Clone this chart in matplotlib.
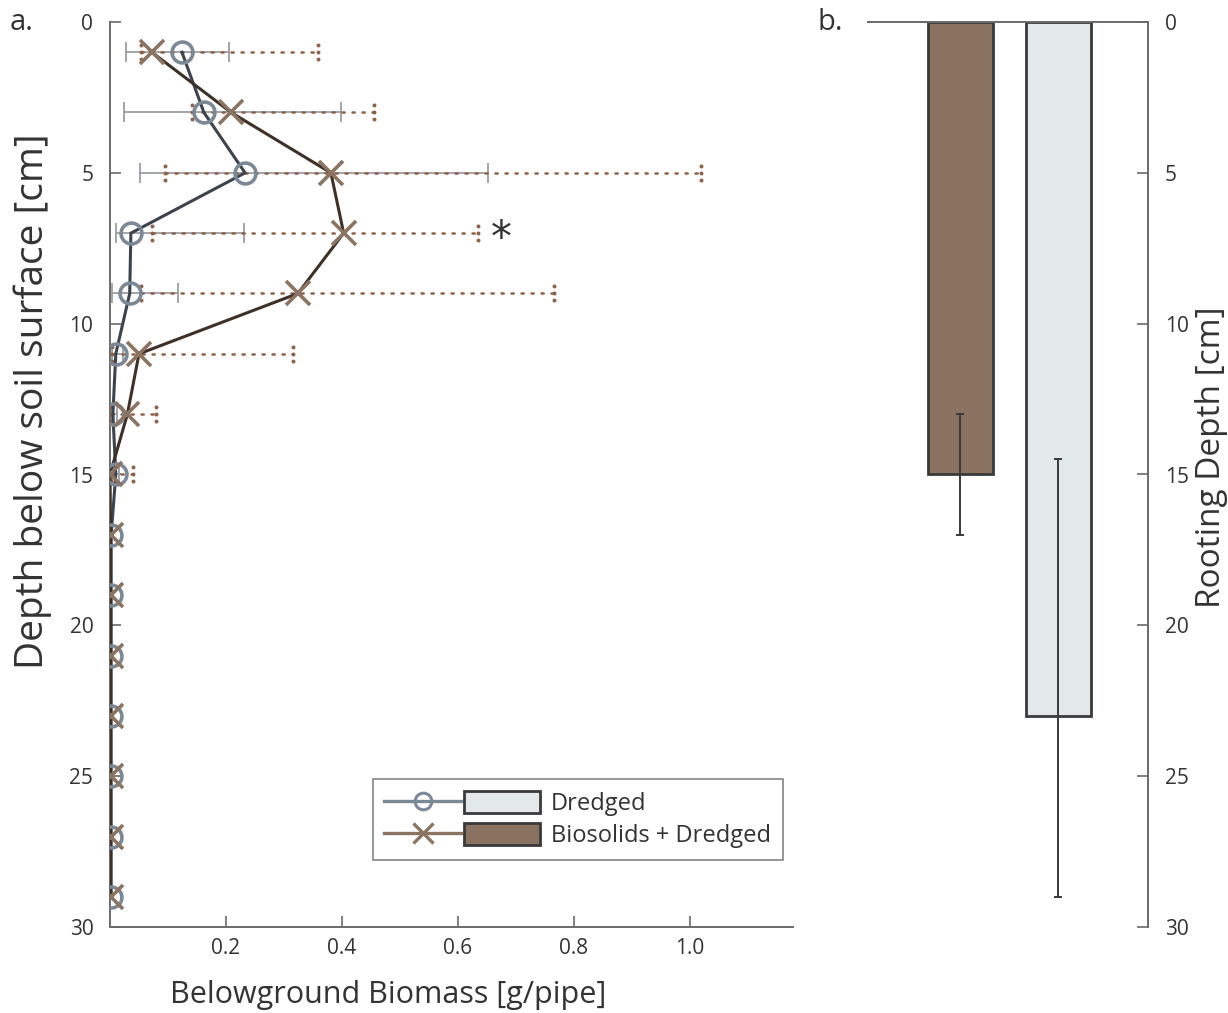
import matplotlib
matplotlib.use("Agg")
import matplotlib.pyplot as plt
import numpy as np
from matplotlib.path import Path
from matplotlib.lines import Line2D
from matplotlib.patches import Patch
from matplotlib.legend_handler import HandlerTuple

plt.rcParams['font.family'] = ['Open Sans', 'DejaVu Sans']

# ---------------- data ----------------
depth = [1, 3, 5, 7, 9, 11, 13, 15, 17, 19, 21, 23, 25, 27, 29]

dredged_mean = [0.124, 0.162, 0.233, 0.036, 0.034, 0.010, 0.005, 0.010,
                0.002, 0.002, 0.002, 0.002, 0.002, 0.002, 0.002]
dredged_low = [0.028, 0.024, 0.052, 0.010, 0.004, 0.003, 0.001, 0.004,
               0.002, 0.002, 0.002, 0.002, 0.002, 0.002, 0.002]
dredged_high = [0.205, 0.398, 0.652, 0.231, 0.118, 0.023, 0.012, 0.016,
                0.002, 0.002, 0.002, 0.002, 0.002, 0.002, 0.002]

bio_mean = [0.072, 0.209, 0.381, 0.403, 0.324, 0.050, 0.030, 0.000,
            0.001, 0.001, 0.001, 0.001, 0.001, 0.001, 0.001]
bio_low = [0.054, 0.141, 0.094, 0.072, 0.053, 0.004, 0.002, 0.001,
           0.001, 0.001, 0.001, 0.001, 0.001, 0.001, 0.001]
bio_high = [0.358, 0.455, 1.020, 0.634, 0.765, 0.316, 0.080, 0.040,
            0.001, 0.001, 0.001, 0.001, 0.001, 0.001, 0.001]

significant_depth = [7]

bar_labels = ["Biosolids + Dredged", "Dredged"]
rooting_depth = [15.0, 23.0]
rooting_err_low = [2.0, 8.5]
rooting_err_high = [2.0, 6.0]

xticks_a = [0.2, 0.4, 0.6, 0.8, 1.0]
xtick_labels_a = ["0.2", "0.4", "0.6", "0.8", "1.0"]
yticks = [0, 5, 10, 15, 20, 25, 30]

# ---------------- styles ----------------
TXT = '#333333'
SPINE = '#6a6a6a'
C_CIRC = '#7b8896'
C_DLINE = '#3d434d'
C_X = '#8b7462'
C_BLINE = '#3e3027'
C_BERR = '#8f6248'
C_GERR = '#9a9ea3'
C_BAR_B = '#8a7260'
C_BAR_D = '#e3e8ea'

# three-dot end marker
circ = Path.unit_circle()
parts = []
for dy in (-1.0, 0.0, 1.0):
    v = circ.vertices * 0.28 + np.array([0.0, dy])
    parts.append(Path(v, circ.codes))
three_dots = Path.make_compound_path(*parts)

fig = plt.figure(figsize=(12.28, 10.13), dpi=100)
axa = fig.add_axes([110 / 1228, 1 - 927 / 1013, 683 / 1228, 905 / 1013])
axb = fig.add_axes([868 / 1228, 1 - 927 / 1013, 280 / 1228, 905 / 1013])

# ---------------- panel a ----------------
d = np.array(depth)
# brown dotted ranges
for i in range(len(d)):
    if bio_high[i] - bio_low[i] > 0.005:
        axa.plot([bio_low[i], bio_high[i]], [d[i], d[i]], color=C_BERR,
                 lw=1.8, linestyle=(0, (0.9, 3.1)), dash_capstyle='round', zorder=3)
        axa.plot([bio_low[i], bio_high[i]], [d[i], d[i]], linestyle='none',
                 marker=three_dots, markersize=13, color=C_BERR,
                 markeredgewidth=0, zorder=3)
# grey solid ranges with caps
for i in range(len(d)):
    if dredged_high[i] - dredged_low[i] > 0.005:
        axa.plot([dredged_low[i], dredged_high[i]], [d[i], d[i]], color=C_GERR,
                 lw=1.3, zorder=2.5)
        axa.plot([dredged_low[i], dredged_high[i]], [d[i], d[i]], linestyle='none',
                 marker='|', markersize=14, markeredgewidth=1.3, color=C_GERR, zorder=2.5)

axa.plot(dredged_mean, d, color=C_DLINE, lw=2.2, zorder=4)
axa.plot(bio_mean, d, color=C_BLINE, lw=2.2, zorder=4)
axa.plot(dredged_mean, d, linestyle='none', marker='o', markersize=15,
         markerfacecolor='none', markeredgecolor=C_CIRC, markeredgewidth=2.6, zorder=5)
axa.plot(bio_mean, d, linestyle='none', marker='x', markersize=17,
         markeredgecolor=C_X, markeredgewidth=2.6, zorder=5)

for sd in significant_depth:
    idx = depth.index(sd)
    axa.text(bio_high[idx] + 0.022, sd + 0.2, '*', fontsize=30, color=TXT,
             ha='left', va='center', family='DejaVu Sans')

axa.set_xlim(0, 1.178)
axa.set_ylim(30, 0)
axa.set_xticks(xticks_a)
axa.set_xticklabels(xtick_labels_a)
axa.set_yticks(yticks)
for s in ('top', 'right'):
    axa.spines[s].set_visible(False)
for s in ('left', 'bottom'):
    axa.spines[s].set_color(SPINE)
    axa.spines[s].set_linewidth(1.4)
axa.tick_params(axis='both', direction='in', length=8, width=1.2, color=SPINE,
                labelsize=15, labelcolor=TXT)
axa.tick_params(axis='y', pad=12)
axa.tick_params(axis='x', pad=8)
axa.set_xlabel('Belowground Biomass [g/pipe]', fontsize=22, color=TXT)
axa.xaxis.set_label_coords(0.407, -0.0586)
axa.set_ylabel('Depth below soil surface [cm]', fontsize=28, color=TXT)
axa.yaxis.set_label_coords(-0.085, 0.581)

h_d = (Line2D([], [], color=C_CIRC, lw=2.4, marker='o', markersize=12,
              markerfacecolor='none', markeredgewidth=2.2),
       Patch(facecolor=C_BAR_D, edgecolor='#3a3a3a', lw=2))
h_b = (Line2D([], [], color=C_X, lw=2.4, marker='x', markersize=15, markeredgewidth=2.4),
       Patch(facecolor=C_BAR_B, edgecolor='#3a3a3a', lw=2))
leg = axa.legend([h_d, h_b], ['Dredged', 'Biosolids + Dredged'],
                 handler_map={tuple: HandlerTuple(ndivide=None, pad=0.1)},
                 loc='lower right', bbox_to_anchor=(0.985, 0.074),
                 fontsize=17, frameon=True, fancybox=False, edgecolor='#666666',
                 handlelength=6.6, handleheight=1.05, handletextpad=0.45,
                 borderpad=0.5, labelspacing=0.3, borderaxespad=0)
leg.get_frame().set_linewidth(1.2)
for t in leg.get_texts():
    t.set_color(TXT)

fig.text(10 / 1228, 1 - 22 / 1013, 'a.', fontsize=21, color=TXT, ha='left', va='center')

# ---------------- panel b ----------------
xb = np.arange(1, len(rooting_depth) + 1)
axb.bar(xb, rooting_depth, width=0.663, color=[C_BAR_B, C_BAR_D],
        edgecolor='#3a3a3a', linewidth=2.0, zorder=2)
axb.errorbar(xb, rooting_depth, yerr=[rooting_err_low, rooting_err_high],
             fmt='none', ecolor='#3a3a3a', elinewidth=1.4, capsize=3, capthick=1.4, zorder=3)
axb.set_xlim(0.056, 2.918)
axb.set_ylim(30, 0)
axb.set_xticks([])
axb.set_yticks(yticks)
axb.yaxis.tick_right()
axb.yaxis.set_label_position('right')
for s in ('left', 'bottom'):
    axb.spines[s].set_visible(False)
for s in ('top', 'right'):
    axb.spines[s].set_color(SPINE)
    axb.spines[s].set_linewidth(1.4)
axb.tick_params(axis='y', direction='in', length=8, width=1.2, color=SPINE,
                labelsize=15, labelcolor=TXT, pad=12)
axb.set_ylabel('Rooting Depth [cm]', fontsize=24, color=TXT)
axb.yaxis.set_label_coords(1.168, 0.519)

fig.text(818 / 1228, 1 - 22 / 1013, 'b.', fontsize=21, color=TXT, ha='left', va='center')

fig.savefig('out.png', dpi=100, facecolor='white')
